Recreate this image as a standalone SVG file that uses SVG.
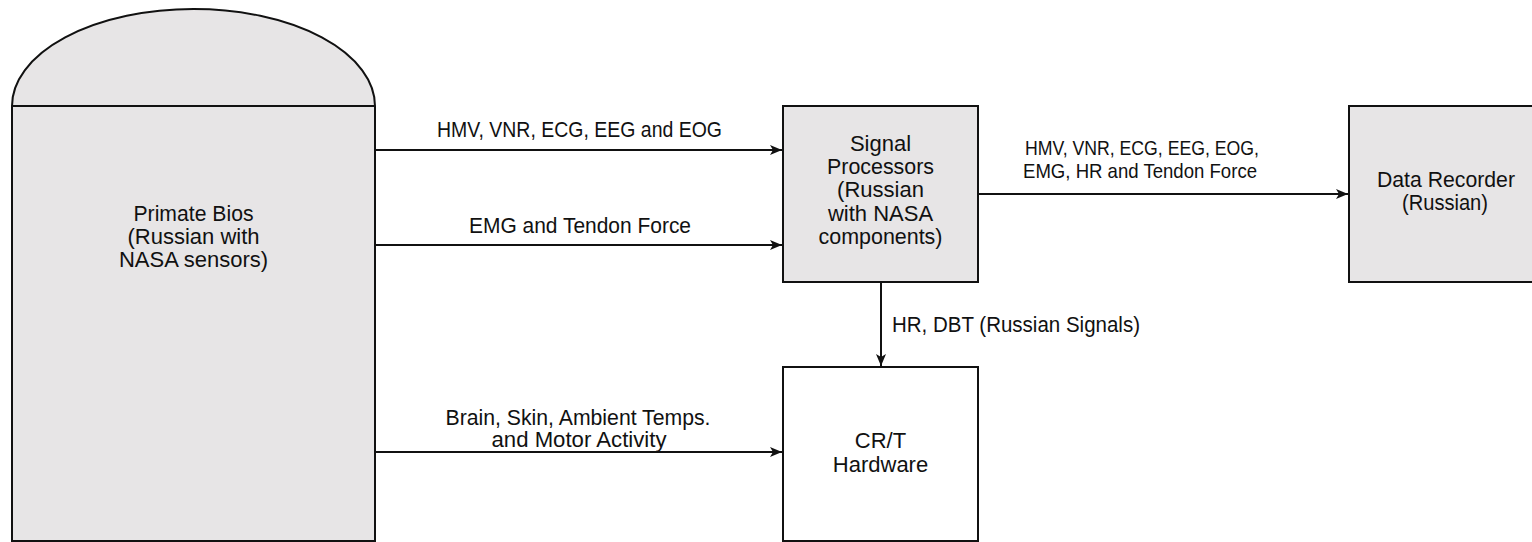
<svg xmlns="http://www.w3.org/2000/svg" width="1532" height="542" viewBox="0 0 1532 542">
  <defs>
    <style>
      .box { fill: #e7e5e6; stroke: #111; stroke-width: 2; }
      .wbox { fill: #ffffff; stroke: #111; stroke-width: 2; }
      .conn { fill: none; stroke: #111; stroke-width: 2; marker-end: url(#arrow); }
      .plain { fill: none; stroke: #111; stroke-width: 2; }
      text { font-family: "Liberation Sans", Arial, sans-serif; font-size: 22px; fill: #111; }
      .c { text-anchor: middle; }
      .s { font-size: 21px; }
    </style>
    <marker id="arrow" viewBox="0 0 12 10" refX="12" refY="5" markerWidth="12" markerHeight="10" markerUnits="userSpaceOnUse" orient="auto">
      <path d="M0,0 L12,5 L0,10 L3,5 z" fill="#111"/>
    </marker>
  </defs>
  <rect width="1532" height="542" fill="#ffffff"/>

  <g id="primate-bios">
    <path class="box" d="M12,541 L12,106 A181.5,97 0 0 1 375,106 L375,541 Z"/>
    <line class="plain" x1="12" y1="106" x2="375" y2="106"/>
    <text class="c" x="193.5" y="221" textLength="120" lengthAdjust="spacingAndGlyphs">Primate Bios</text>
    <text class="c" x="193.5" y="244">(Russian with</text>
    <text class="c" x="193.5" y="267">NASA sensors)</text>
  </g>

  <g id="signal-processors">
    <rect class="box" x="783" y="106" width="195" height="176"/>
    <text class="c" x="880.5" y="151">Signal</text>
    <text class="c" x="880.5" y="174" textLength="107" lengthAdjust="spacingAndGlyphs">Processors</text>
    <text class="c" x="880.5" y="197">(Russian</text>
    <text class="c" x="880.5" y="221">with NASA</text>
    <text class="c" x="880.5" y="244" textLength="124" lengthAdjust="spacingAndGlyphs">components)</text>
  </g>

  <g id="data-recorder">
    <rect class="box" x="1349" y="106" width="194" height="176"/>
    <text class="c" x="1446" y="187" textLength="138" lengthAdjust="spacingAndGlyphs">Data Recorder</text>
    <text class="c" x="1445" y="210" textLength="86" lengthAdjust="spacingAndGlyphs">(Russian)</text>
  </g>

  <g id="crt-hardware">
    <rect class="wbox" x="783" y="367" width="195" height="174"/>
    <text class="c" x="880.5" y="448">CR/T</text>
    <text class="c" x="880.5" y="472">Hardware</text>
  </g>

  <g id="connectors">
    <line class="conn" x1="376" y1="150" x2="782" y2="150"/>
    <text class="c" x="579.5" y="137" textLength="285" lengthAdjust="spacingAndGlyphs">HMV, VNR, ECG, EEG and EOG</text>

    <line class="conn" x1="376" y1="245" x2="782" y2="245"/>
    <text class="c" x="580" y="233" textLength="222" lengthAdjust="spacingAndGlyphs">EMG and Tendon Force</text>

    <line class="conn" x1="376" y1="452" x2="782" y2="452"/>
    <text class="c" x="578" y="425" textLength="265" lengthAdjust="spacingAndGlyphs">Brain, Skin, Ambient Temps.</text>
    <text class="c" x="579" y="447" textLength="175" lengthAdjust="spacingAndGlyphs">and Motor Activity</text>

    <line class="conn" x1="979" y1="194" x2="1348" y2="194"/>
    <text class="c s" x="1142" y="155" textLength="234" lengthAdjust="spacingAndGlyphs">HMV, VNR, ECG, EEG, EOG,</text>
    <text class="c s" x="1140" y="178" textLength="234" lengthAdjust="spacingAndGlyphs">EMG, HR and Tendon Force</text>

    <line class="conn" x1="881" y1="283" x2="881" y2="366"/>
    <text x="892" y="332" textLength="248" lengthAdjust="spacingAndGlyphs">HR, DBT (Russian Signals)</text>
  </g>
</svg>
